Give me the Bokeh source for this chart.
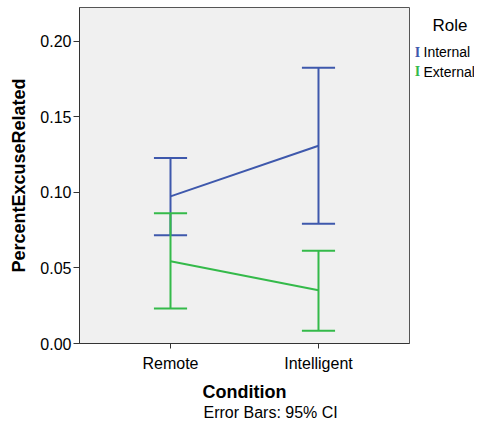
from bokeh.plotting import figure
from bokeh.models import FixedTicker, Range1d, ColumnDataSource
from bokeh.layouts import row, column
from bokeh.core.properties import value
from bokeh.embed import file_html
from bokeh.resources import INLINE

# ---- data ----
conditions = ["Remote", "Intelligent"]
roles = ["Internal", "External"]
internal_mean = [0.0974, 0.1309]
internal_lower = [0.0717, 0.0792]
internal_upper = [0.1228, 0.1825]
external_mean = [0.0544, 0.0353]
external_lower = [0.0232, 0.0084]
external_upper = [0.0862, 0.0614]
y_ticks = [0.0, 0.05, 0.10, 0.15, 0.20]
y_tick_labels = ["0.00", "0.05", "0.10", "0.15", "0.20"]
legend_title = "Role"
footnote = "Error Bars: 95% CI"

# ---- styles ----
FONT = "Liberation Sans"
colors = {"Internal": "#3E58AC", "External": "#34BA4A"}
cap_half = 0.112


def blank_panel(width, height):
    f = figure(width=width, height=height, output_backend="svg", toolbar_location=None,
               title=None, x_axis_location=None, y_axis_location=None,
               x_range=Range1d(0, width), y_range=Range1d(height, 0),
               min_border=0, min_border_left=0, min_border_right=0,
               min_border_top=0, min_border_bottom=0)
    f.grid.visible = False
    f.outline_line_color = None
    f.background_fill_color = "white"
    f.border_fill_color = "white"
    return f


p = figure(width=410, height=404, output_backend="svg", toolbar_location=None, title=None,
           x_range=Range1d(-0.615, 1.615), y_range=Range1d(0, 0.2224),
           min_border_left=79, min_border_right=1, min_border_top=7, min_border_bottom=59)
p.background_fill_color = "#F0F0F0"
p.border_fill_color = "white"
p.outline_line_color = "#555555"
p.outline_line_width = 1
p.grid.visible = False

xs = list(range(len(conditions)))
series = {
    "Internal": (internal_mean, internal_lower, internal_upper),
    "External": (external_mean, external_lower, external_upper),
}
for role in roles:
    mean, lo, hi = series[role]
    c = colors[role]
    src = ColumnDataSource(dict(x=xs, mean=mean, lo=lo, hi=hi,
                                x0=[x - cap_half for x in xs], x1=[x + cap_half for x in xs]))
    p.segment(x0="x", y0="lo", x1="x", y1="hi", source=src, line_color=c, line_width=2)
    p.segment(x0="x0", y0="lo", x1="x1", y1="lo", source=src, line_color=c, line_width=2)
    p.segment(x0="x0", y0="hi", x1="x1", y1="hi", source=src, line_color=c, line_width=2)
    p.line(x="x", y="mean", source=src, line_color=c, line_width=2)

# x axis
xa = p.xaxis[0]
xa.ticker = FixedTicker(ticks=xs)
xa.major_label_overrides = {i: c for i, c in enumerate(conditions)}
xa.minor_tick_line_color = None
xa.major_tick_in = 0
xa.major_tick_out = 5
xa.axis_line_color = "#333333"
xa.major_tick_line_color = "#333333"
xa.major_label_text_font = FONT
xa.major_label_text_font_size = "16px"
xa.major_label_text_color = "black"
xa.major_label_standoff = 6
xa.axis_label = "Condition"
xa.axis_label_text_font = FONT
xa.axis_label_text_font_size = "18px"
xa.axis_label_text_font_style = "bold"
xa.axis_label_text_color = "black"
xa.axis_label_standoff = 7

# y axis
ya = p.yaxis[0]
ya.ticker = FixedTicker(ticks=y_ticks)
ya.major_label_overrides = {t: l for t, l in zip(y_ticks, y_tick_labels)}
ya.minor_tick_line_color = None
ya.major_tick_in = 0
ya.major_tick_out = 6
ya.axis_line_color = "#333333"
ya.major_tick_line_color = "#333333"
ya.major_label_text_font = FONT
ya.major_label_text_font_size = "16px"
ya.major_label_text_color = "black"
ya.major_label_standoff = 2
ya.axis_label = "PercentExcuseRelated"
ya.axis_label_text_font = FONT
ya.axis_label_text_font_size = "18px"
ya.axis_label_text_font_style = "bold"
ya.axis_label_text_color = "black"
ya.axis_label_standoff = 8

# ---- legend panel (pixel space, x from 0 at its left edge = canvas x 410) ----
leg = blank_panel(64, 404)
leg.text(x=[22], y=[22], text=[legend_title], text_font=value(FONT), text_font_size="17px",
         text_align="left", text_baseline="middle", text_color="black")
leg_rows = [54, 77]
leg.text(x=[7] * len(roles), y=leg_rows, text=["I"] * len(roles),
         text_font=value("Liberation Serif"), text_font_size="14px", text_font_style="bold",
         text_align="center", text_baseline="middle",
         text_color=[colors[r] for r in roles])
leg.text(x=[13] * len(roles), y=leg_rows, text=roles,
         text_font=value(FONT), text_font_size="14px",
         text_align="left", text_baseline="middle", text_color="black")

# ---- footnote panel ----
foot = blank_panel(474, 16)
foot.text(x=[203], y=[8], text=[footnote], text_font=value(FONT), text_font_size="16px",
          text_align="left", text_baseline="middle", text_color="black")

layout = column(row(p, leg, spacing=0), foot, spacing=0)
open("out.html", "w").write(file_html(layout, INLINE))
